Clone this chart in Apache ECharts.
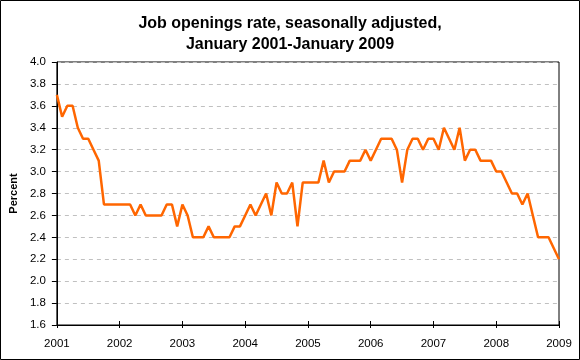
<!DOCTYPE html>
<html>
<head>
<meta charset="utf-8">
<script src="https://cdn.jsdelivr.net/npm/echarts@6/dist/echarts.min.js"></script>
<style>
html,body{margin:0;padding:0;background:#fff;}
#chart{width:580px;height:360px;}
</style>
</head>
<body>
<div id="chart"></div>
<script>
// Monthly categories, Jan 2001 - Jan 2009
const years = [2001, 2002, 2003, 2004, 2005, 2006, 2007, 2008, 2009];
const months = [];
for (let y = 2001; y <= 2008; y++) for (let m = 1; m <= 12; m++) months.push(y + '-' + (m < 10 ? '0' + m : m));
months.push('2009-01');

const rate2001 = [3.7, 3.5, 3.6, 3.6, 3.4, 3.3, 3.3, 3.2, 3.1, 2.7, 2.7, 2.7];
const rate2002 = [2.7, 2.7, 2.7, 2.6, 2.7, 2.6, 2.6, 2.6, 2.6, 2.7, 2.7, 2.5];
const rate2003 = [2.7, 2.6, 2.4, 2.4, 2.4, 2.5, 2.4, 2.4, 2.4, 2.4, 2.5, 2.5];
const rate2004 = [2.6, 2.7, 2.6, 2.7, 2.8, 2.6, 2.9, 2.8, 2.8, 2.9, 2.5, 2.9];
const rate2005 = [2.9, 2.9, 2.9, 3.1, 2.9, 3.0, 3.0, 3.0, 3.1, 3.1, 3.1, 3.2];
const rate2006 = [3.1, 3.2, 3.3, 3.3, 3.3, 3.2, 2.9, 3.2, 3.3, 3.3, 3.2, 3.3];
const rate2007 = [3.3, 3.2, 3.4, 3.3, 3.2, 3.4, 3.1, 3.2, 3.2, 3.1, 3.1, 3.1];
const rate2008 = [3.0, 3.0, 2.9, 2.8, 2.8, 2.7, 2.8, 2.6, 2.4, 2.4, 2.4, 2.3];
const rate2009 = [2.2];
const rates = [].concat(rate2001, rate2002, rate2003, rate2004, rate2005, rate2006, rate2007, rate2008, rate2009);

const yTicks = [1.6, 1.8, 2.0, 2.2, 2.4, 2.6, 2.8, 3.0, 3.2, 3.4, 3.6, 3.8, 4.0];

const chart = echarts.init(document.getElementById('chart'), null, {renderer: 'canvas'});
const font = 'Liberation Sans, Arial, sans-serif';
const isJan = (idx) => idx % 12 === 0;
chart.setOption({
  animation: false,
  backgroundColor: '#fff',
  graphic: [{
    type: 'rect',
    silent: true,
    z: 100,
    shape: {x: 0.5, y: 0.5, width: 579, height: 359},
    style: {fill: 'none', stroke: '#000', lineWidth: 1}
  }],
  title: {
    text: 'Job openings rate, seasonally adjusted,\nJanuary 2001-January 2009',
    left: 'center',
    top: 8,
    textStyle: {fontFamily: font, fontSize: 16, fontWeight: 'bold', color: '#000', lineHeight: 21}
  },
  grid: {left: 55, right: 21, top: 62, bottom: 35, show: true, borderColor: '#000', borderWidth: 1, backgroundColor: 'transparent'},
  xAxis: [{
    type: 'category',
    data: months,
    boundaryGap: false,
    axisLine: {lineStyle: {color: '#000', width: 1}},
    axisTick: {show: true, interval: (i) => isJan(i), length: 3, lineStyle: {color: '#000'}},
    axisLabel: {interval: (i) => isJan(i), formatter: (v) => v.slice(0, 4), fontFamily: font, fontSize: 11.5, color: '#000', margin: 13},
    splitLine: {show: false}
  }, {
    type: 'category',
    data: months,
    boundaryGap: false,
    position: 'bottom',
    axisLine: {show: false},
    axisTick: {show: true, inside: true, interval: (i) => isJan(i), length: 4, lineStyle: {color: '#000'}},
    axisLabel: {show: false},
    splitLine: {show: false}
  }],
  yAxis: {
    type: 'value',
    min: yTicks[0],
    max: yTicks[yTicks.length - 1],
    interval: 0.2,
    name: 'Percent',
    nameLocation: 'middle',
    nameGap: 36,
    nameTextStyle: {fontFamily: font, fontSize: 11, fontWeight: 'bold', color: '#000'},
    axisLine: {show: true, lineStyle: {color: '#000'}},
    axisTick: {show: true, length: 5, lineStyle: {color: '#000'}},
    axisLabel: {formatter: (v) => v.toFixed(1), fontFamily: font, fontSize: 11.5, color: '#000', margin: 11},
    splitLine: {show: true, lineStyle: {color: '#c0c0c0', type: [4, 4], width: 1}}
  },
  series: [{
    type: 'line',
    data: rates,
    xAxisIndex: 0,
    showSymbol: false,
    symbol: 'none',
    lineStyle: {color: '#ff6600', width: 2.5},
    itemStyle: {color: '#ff6600'}
  }]
});
</script>
</body>
</html>
